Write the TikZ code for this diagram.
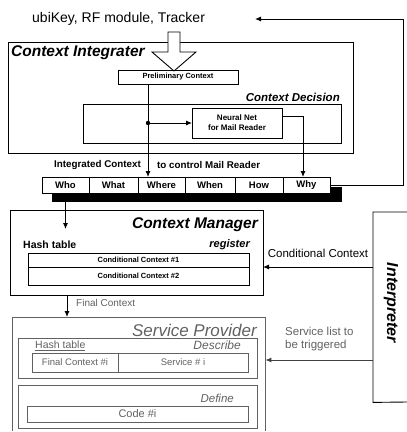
\documentclass[tikz,border=0pt]{standalone}
\usepackage{fontspec}
\setmainfont{Liberation Sans}
\usetikzlibrary{arrows.meta,calc}
\definecolor{spgray}{gray}{0.38}
\begin{document}
\begin{tikzpicture}[x=1pt,y=-1pt,
  box/.style={draw,line width=0.9pt,inner sep=0pt,outer sep=0pt,anchor=north west},
  gbox/.style={draw=spgray,line width=0.8pt,inner sep=0pt,outer sep=0pt,anchor=north west},
  cell/.style={box,fill=white,minimum height=16pt,font=\fontsize{9.5}{10}\selectfont\bfseries},
  arr/.style={line width=0.9pt,-{Latex[length=6pt,width=5pt]}},
  garr/.style={line width=0.9pt,draw=black!75,-{Latex[length=6pt,width=5pt]}},
  lbl/.style={inner sep=0pt,font=\fontsize{9.8}{11}\selectfont\bfseries},
  glbl/.style={inner sep=0pt,text=spgray,font=\fontsize{10}{11}\selectfont},
  title/.style={inner sep=0pt,font=\fontsize{15.5}{17}\selectfont\bfseries\itshape}]
\useasboundingbox (0,0) rectangle (407,432);

% top source
\node[inner sep=0pt,anchor=west,font=\fontsize{14}{16}\selectfont] (src) at (32,19) {ubiKey, RF module, Tracker};
\coordinate (srcin) at (255,19);

% Context Integrater
\node[box,minimum width=345pt,minimum height=111pt] (ci) at (8,42) {};
\node[title,anchor=west] (cit) at (11,53) {Context Integrater};
\node[box,minimum width=258pt,minimum height=39pt] (cd) at (83,104) {};
\node[lbl,anchor=east,font=\fontsize{11.5}{13}\selectfont\bfseries\itshape] (cdt) at (340,97) {Context Decision};
\node[box,fill=white,minimum width=120pt,minimum height=14pt,font=\fontsize{7.5}{9}\selectfont\bfseries] (pre) at (118,70) {Preliminary Context};
\node[box,fill=white,minimum width=90pt,minimum height=30pt,align=center,font=\fontsize{8}{10}\selectfont\bfseries] (nn) at (192,108) {Neural Net\\for Mail Reader};

% hollow input arrow
\draw[line width=0.9pt,fill=white] (168,32) -- (180,32) -- (180,52) -- (196,52) -- (174,71) -- (152,52) -- (168,52) -- cycle;

% shadow and cells
\fill (52,187) rectangle (342,202);
\node[cell,minimum width=47pt] (who) at (42,177) {Who};
\node[cell,minimum width=49pt] (what) at (89,177) {What};
\node[cell,minimum width=47pt] (where) at (138,177) {Where};
\node[cell,minimum width=50pt] (when) at (185,177) {When};
\node[cell,minimum width=48pt] (how) at (235,177) {How};
\node[cell,minimum width=47pt] (why) at (283,177) {Why};
\node[lbl,anchor=east] (ict) at (141,165) {Integrated Context};
\node[lbl,anchor=west] (tcm) at (157,165) {to control Mail Reader};

% internal connectors
\coordinate (jn) at (148,123);
\coordinate (wx) at (303,0);
\coordinate (nnout) at ($(nn.north east)+(0,8)$);
\draw[arr] (pre.south -| jn) -- (where.north -| jn);
\fill (jn) circle (2.2pt);
\draw[arr] (jn) -- (nn.west);
\draw[arr] (nnout) -- (nnout -| wx) -- (why.north -| wx);

% feedback loop
\coordinate (fbtop) at (403,19);
\draw[arr] (why.east) -| (fbtop) -- (srcin);

% Context Manager
\node[box,minimum width=253pt,minimum height=85pt] (cm) at (10,210) {};
\node[title,anchor=east] (cmt) at (258,225) {Context Manager};
\node[lbl,anchor=west,font=\fontsize{10.5}{12}\selectfont\bfseries] (ht1) at (23,245) {Hash table};
\node[lbl,anchor=east,font=\fontsize{11}{12}\selectfont\bfseries\itshape] (reg) at (250,245) {register};
\node[box,minimum width=221pt,minimum height=14pt,font=\fontsize{7.5}{9}\selectfont\bfseries] (cc1) at (28,253) {Conditional Context \#1};
\node[box,minimum width=221pt,minimum height=18pt,font=\fontsize{7.5}{9}\selectfont\bfseries] (cc2) at (28,267) {Conditional Context \#2};
\coordinate (cmin) at (66,229);
\draw[arr] (who.south) -- (who.south |- cmin);

% Interpreter
\node[inner sep=0pt,minimum width=34pt,minimum height=190pt,anchor=north west] (ip) at (373,212) {};
\draw[line width=0.9pt] (407,212) -- (ip.north west) -- (ip.south west) -- (407,402);
\node[rotate=-90,inner sep=0pt,font=\fontsize{16}{18}\selectfont\bfseries\itshape] (ipt) at (391,303) {Interpreter};
\coordinate (ip1) at (373,267);
\coordinate (ip2) at (373,360);
\draw[arr] (ip1) -- (ip1 -| cm.east);
\node[inner sep=0pt,font=\fontsize{11.5}{13}\selectfont] (cct) at (318,253) {Conditional Context};

% Service Provider
\node[inner sep=0pt,minimum width=253pt,minimum height=114pt,anchor=north west] (sp) at (12,317) {};
\draw[draw=spgray,line width=0.8pt] (sp.south west) -- (sp.north west) -- (sp.north east) -- (sp.south east);
\node[title,anchor=east,text=spgray,font=\fontsize{17}{19}\selectfont\itshape] (spt) at (257,330) {Service Provider};
\node[gbox,minimum width=239pt,minimum height=40pt] (desc) at (18,338) {};
\node[glbl,anchor=west,font=\fontsize{10.5}{12}\selectfont] (ht2) at (35,346) {\underline{Hash table}};
\node[glbl,anchor=east,font=\fontsize{12}{13}\selectfont\itshape] (dsc) at (241,345) {Describe};
\node[gbox,minimum width=86pt,minimum height=19pt,text=spgray,font=\fontsize{9.5}{10}\selectfont] (fc) at (32,353) {Final Context \#i};
\node[gbox,minimum width=130pt,minimum height=19pt,text=spgray,font=\fontsize{9.5}{10}\selectfont] (svc) at (118,353) {Service \# i};
\node[gbox,minimum width=239pt,minimum height=43pt] (def) at (18,385) {};
\node[glbl,anchor=east,font=\fontsize{11.5}{13}\selectfont\itshape] (dft) at (234,398) {Define};
\node[gbox,minimum width=221pt,minimum height=16pt,text=spgray,font=\fontsize{11}{12}\selectfont] (code) at (27,406) {Code \#i};
\draw[garr] (ip2) -- (ip2 -| sp.east);
\node[glbl,anchor=west,align=left,font=\fontsize{11.5}{12.5}\selectfont] (slt) at (285,339) {Service list to\\be triggered};

% CM -> SP
\coordinate (fx) at (67,0);
\draw[arr] (cm.south -| fx) -- (sp.north -| fx);
\node[glbl,anchor=west] (fct) at (76,303) {Final Context};
\end{tikzpicture}
\end{document}
